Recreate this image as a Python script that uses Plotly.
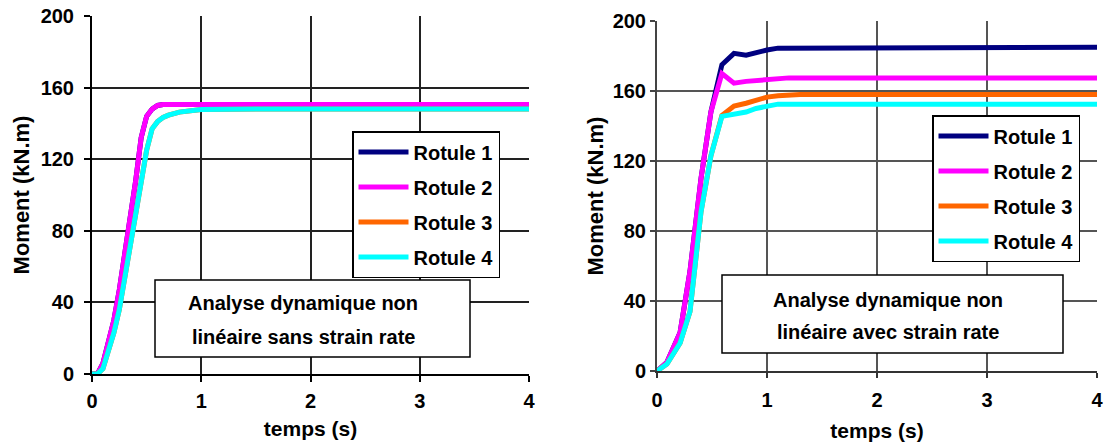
import plotly.graph_objects as go

# ---------------- data ----------------
names = ["Rotule 1", "Rotule 2", "Rotule 3", "Rotule 4"]
colors = ["#000080", "#FF00FF", "#FF6600", "#00FFFF"]

# Left chart: "sans strain rate"
t_left = [0, 0.05, 0.1, 0.15, 0.2, 0.25, 0.3, 0.35, 0.4, 0.45, 0.5, 0.55, 0.6,
          0.65, 0.7, 0.8, 0.9, 1.0, 1.5, 2.0, 2.5, 3.0, 3.5, 4.0]
left_r1 = [0, 0, 6, 17, 30, 47, 67, 88, 108, 132, 144, 148, 150,
           150.5, 150.5, 150.5, 150.5, 150.5, 150.5, 150.5, 150.5, 150.5, 150.5, 150.5]
left_r2 = [0, 0, 6, 17, 30, 47, 67, 88, 108, 132, 144, 148, 150,
           150.5, 150.5, 150.5, 150.5, 150.5, 150.5, 150.5, 150.5, 150.5, 150.5, 150.5]
left_r3 = [0, 0, 3, 12, 23, 36, 54, 72, 90, 108, 125, 137, 141,
           143.3, 144.6, 146.3, 147.2, 147.8, 148, 148, 148, 148, 148, 148]
left_r4 = [0, 0, 3, 12, 23, 36, 54, 72, 90, 108, 125, 137, 141,
           143.3, 144.6, 146.3, 147.2, 147.8, 148, 148, 148, 148, 148, 148]

# Right chart: "avec strain rate"
t_right = [0, 0.09, 0.21, 0.3, 0.4, 0.49, 0.59, 0.7, 0.81, 0.9, 1.0, 1.1, 1.2, 1.3,
           1.5, 2.0, 2.5, 3.0, 3.5, 4.0]
right_r1 = [0, 5, 22, 57, 110, 148, 175, 181.5, 180.5, 182, 183.4, 184.5, 184.5, 185,
            185, 185, 185, 185, 185, 185]
right_r2 = [0, 5, 22, 57, 110, 148, 170, 164.5, 165.5, 166, 166.5, 167.5, 167.5, 167.5,
            167.5, 167.5, 167.5, 167.5, 167.5, 167.5]
right_r3 = [0, 4, 16, 34, 91, 123, 146, 151.4, 153, 155, 156.5, 157.3, 158, 158,
            158, 158, 158, 158, 158, 158]
right_r4 = [0, 4, 16, 34, 91, 123, 145.5, 146.5, 148, 150, 151, 152.5, 152.5, 152.5,
            152.5, 152.5, 152.5, 152.5, 152.5, 152.5]

x_ticks = [0, 1, 2, 3, 4]
y_ticks = [0, 40, 80, 120, 160, 200]
x_title = "temps (s)"
y_title = "Moment (kN.m)"
box_left = ["Analyse dynamique non", "linéaire sans strain rate"]
box_right = ["Analyse dynamique non", "linéaire avec strain rate"]

# ---------------- figure ----------------
FONT = "Liberation Sans, Arial, sans-serif"
W, H = 1106, 447


def px(x):
    return x / W


def py(y):
    return 1 - y / H


fig = go.Figure()

for i, ys in enumerate([left_r1, left_r2, left_r3, left_r4]):
    fig.add_trace(go.Scatter(x=t_left, y=ys, mode="lines", name=names[i],
                             line=dict(color=colors[i], width=5),
                             xaxis="x", yaxis="y", legend="legend",
                             legendgroup="L%d" % i))
for i, ys in enumerate([right_r1, right_r2, right_r3, right_r4]):
    fig.add_trace(go.Scatter(x=t_right, y=ys, mode="lines", name=names[i],
                             line=dict(color=colors[i], width=5),
                             xaxis="x2", yaxis="y2", legend="legend2",
                             legendgroup="R%d" % i))

tickfont = dict(family=FONT, size=20, color="black", weight="bold")


def xax(domain, anchor, grid, line, ticklen, labstand, titlestand):
    return dict(domain=domain, anchor=anchor, range=[0, 4], tickvals=x_ticks,
                automargin=False,
                showgrid=True, gridcolor=grid, gridwidth=1.5, zeroline=False,
                showline=True, linecolor=line, linewidth=2,
                ticks="outside", ticklen=ticklen, tickcolor=line, tickwidth=1.5,
                tickfont=tickfont, ticklabelstandoff=labstand,
                title=dict(text=x_title,
                           font=dict(family=FONT, size=21, color="black", weight="bold"),
                           standoff=titlestand))


def yax(domain, anchor, grid, line, ticklen, labstand, titlestand):
    return dict(domain=domain, anchor=anchor, range=[0, 200], tickvals=y_ticks,
                automargin=False,
                showgrid=True, gridcolor=grid, gridwidth=1.5, zeroline=False,
                showline=True, linecolor=line, linewidth=2,
                ticks="outside", ticklen=ticklen, tickcolor=line, tickwidth=1.5,
                tickfont=tickfont, ticklabelstandoff=labstand,
                title=dict(text=y_title,
                           font=dict(family=FONT, size=22, color="black", weight="bold"),
                           standoff=titlestand))


legfont = dict(family=FONT, size=20, color="black", weight="bold")

shapes = [
    dict(type="rect", xref="paper", yref="paper", x0=px(155), x1=px(470), y0=py(357), y1=py(280),
         line=dict(color="black", width=1.5), fillcolor="white", layer="above"),
    dict(type="rect", xref="paper", yref="paper", x0=px(722), x1=px(1063), y0=py(353), y1=py(275),
         line=dict(color="black", width=1.5), fillcolor="white", layer="above"),
]

annfont = dict(family=FONT, size=20, color="black", weight="bold")
annotations = [
    dict(text=box_left[0], xref="paper", yref="paper", x=px(303), y=py(303), showarrow=False,
         xanchor="center", yanchor="middle", font=annfont),
    dict(text=box_left[1], xref="paper", yref="paper", x=px(303), y=py(337), showarrow=False,
         xanchor="center", yanchor="middle", font=annfont),
    dict(text=box_right[0], xref="paper", yref="paper", x=px(888), y=py(300), showarrow=False,
         xanchor="center", yanchor="middle", font=annfont),
    dict(text=box_right[1], xref="paper", yref="paper", x=px(888), y=py(332), showarrow=False,
         xanchor="center", yanchor="middle", font=annfont),
]

fig.update_layout(
    width=W, height=H,
    margin=dict(l=0, r=0, t=0, b=0, autoexpand=False),
    paper_bgcolor="white", plot_bgcolor="white",
    font=dict(family=FONT, color="black"),
    xaxis=xax([px(92), px(529)], "y", "#222222", "black", 6, 2, 10),
    yaxis=yax([py(374), py(16)], "x", "#222222", "black", 6, 6, 5),
    xaxis2=xax([px(657), px(1097)], "y2", "#555555", "#333333", 5, 5, 13),
    yaxis2=yax([py(371), py(21)], "x2", "#555555", "#444444", 5, 0, 3),
    legend=dict(x=px(352), y=py(131), xanchor="left", yanchor="top",
                bgcolor="white", bordercolor="black", borderwidth=1.5,
                font=legfont, tracegroupgap=6, itemwidth=50),
    legend2=dict(x=px(932), y=py(115), xanchor="left", yanchor="top",
                 bgcolor="white", bordercolor="black", borderwidth=1.5,
                 font=legfont, tracegroupgap=6, itemwidth=50),
    shapes=shapes,
    annotations=annotations,
    showlegend=True,
)

fig.write_html("out.html")
